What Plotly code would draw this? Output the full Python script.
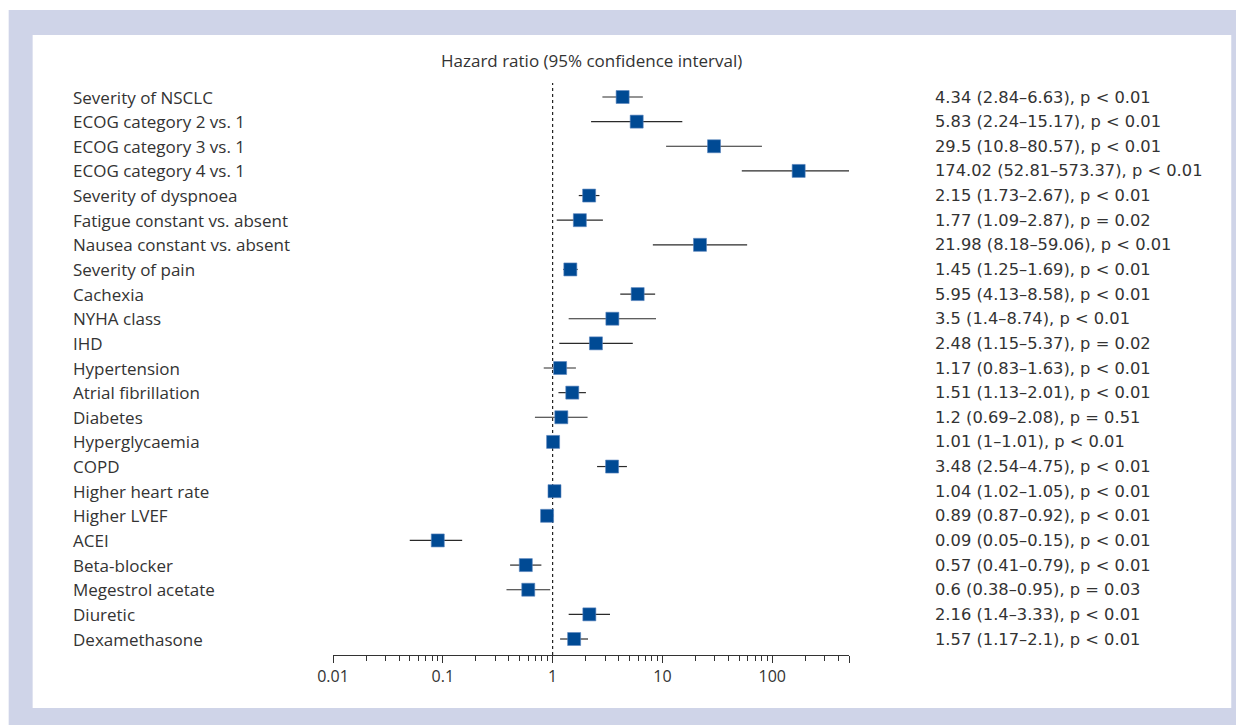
import plotly.graph_objects as go
import numpy as np

labels = ["Severity of NSCLC", "ECOG category 2 vs. 1", "ECOG category 3 vs. 1",
          "ECOG category 4 vs. 1", "Severity of dyspnoea", "Fatigue constant vs. absent",
          "Nausea constant vs. absent", "Severity of pain", "Cachexia", "NYHA class", "IHD",
          "Hypertension", "Atrial fibrillation", "Diabetes", "Hyperglycaemia", "COPD",
          "Higher heart rate", "Higher LVEF", "ACEI", "Beta-blocker", "Megestrol acetate",
          "Diuretic", "Dexamethasone"]
hr = [4.34, 5.83, 29.5, 174.02, 2.15, 1.77, 21.98, 1.45, 5.95, 3.5, 2.48, 1.17, 1.51, 1.2,
      1.01, 3.48, 1.04, 0.89, 0.09, 0.57, 0.6, 2.16, 1.57]
lo = [2.84, 2.24, 10.8, 52.81, 1.73, 1.09, 8.18, 1.25, 4.13, 1.4, 1.15, 0.83, 1.13, 0.69,
      1.0, 2.54, 1.02, 0.87, 0.05, 0.41, 0.38, 1.4, 1.17]
hi = [6.63, 15.17, 80.57, 573.37, 2.67, 2.87, 59.06, 1.69, 8.58, 8.74, 5.37, 1.63, 2.01, 2.08,
      1.01, 4.75, 1.05, 0.92, 0.15, 0.79, 0.95, 3.33, 2.1]
pvals = ["p < 0.01", "p < 0.01", "p < 0.01", "p < 0.01", "p < 0.01", "p = 0.02", "p < 0.01",
         "p < 0.01", "p < 0.01", "p < 0.01", "p = 0.02", "p < 0.01", "p < 0.01", "p = 0.51",
         "p < 0.01", "p < 0.01", "p < 0.01", "p < 0.01", "p < 0.01", "p < 0.01", "p = 0.03",
         "p < 0.01", "p < 0.01"]
hr_txt = ["4.34", "5.83", "29.5", "174.02", "2.15", "1.77", "21.98", "1.45", "5.95", "3.5",
          "2.48", "1.17", "1.51", "1.2", "1.01", "3.48", "1.04", "0.89", "0.09", "0.57", "0.6",
          "2.16", "1.57"]
lo_txt = ["2.84", "2.24", "10.8", "52.81", "1.73", "1.09", "8.18", "1.25", "4.13", "1.4",
          "1.15", "0.83", "1.13", "0.69", "1", "2.54", "1.02", "0.87", "0.05", "0.41", "0.38",
          "1.4", "1.17"]
hi_txt = ["6.63", "15.17", "80.57", "573.37", "2.67", "2.87", "59.06", "1.69", "8.58", "8.74",
          "5.37", "1.63", "2.01", "2.08", "1.01", "4.75", "1.05", "0.92", "0.15", "0.79", "0.95",
          "3.33", "2.1"]
major_ticks = [0.01, 0.1, 1, 10, 100, 500]
major_text = ["0.01", "0.1", "1", "10", "100", ""]

n = len(labels)
ypos = [n - 1 - i for i in range(n)]

# page has an 8px body margin; work in reference-screen pixels and shift
OFF = 8
W, H = 1244 - OFF, 725 - OFF
L, R, T, B = 332.7, 849.3, 83, 655        # plot area in screen px
ROW0, ROWN = 97, 639
step = (ROWN - ROW0) / (n - 1)
pw, ph = R - L, B - T

def px2x(p):
    return (p - L) / pw

def py2y(p):
    return (B - p) / ph

FONT = "Open Sans"
FONT2 = "DejaVu Sans"
TXT = "#333333"
BLUE = "#004a94"

fig = go.Figure()

xs, ys = [], []
for y, a, b in zip(ypos, lo, hi):
    xs += [a, min(b, 500), None]
    ys += [y, y, None]
fig.add_trace(go.Scatter(x=xs, y=ys, mode="lines", line=dict(color="#2a2a2a", width=1.2),
                         hoverinfo="skip", showlegend=False, cliponaxis=False))
fig.add_trace(go.Scatter(x=hr, y=ypos, mode="markers",
                         marker=dict(symbol="square", size=13, color=BLUE,
                                     line=dict(color="#5a85bd", width=0.6)),
                         showlegend=False, cliponaxis=False))

minor_vals = [m * 10.0 ** d for d in range(-2, 3) for m in range(2, 10) if m * 10.0 ** d < 500]

fig.update_xaxes(type="log", range=[-2, np.log10(500)], tickmode="array",
                 tickvals=major_ticks, ticktext=major_text, ticks="outside", ticklen=7,
                 tickcolor="#333333", tickwidth=1, showline=True, linecolor="#333333",
                 linewidth=1, showgrid=False, zeroline=False,
                 tickfont=dict(family=FONT, size=16, color=TXT),
                 minor=dict(tickmode="array", tickvals=minor_vals, ticks="outside",
                            ticklen=5, tickcolor="#333333", showgrid=False))
fig.update_yaxes(range=[-(B - ROWN) / step, n - 1 + (ROW0 - T) / step], showticklabels=False,
                 showgrid=False, zeroline=False, showline=False)

shapes = [
    dict(type="rect", xref="paper", yref="paper", x0=px2x(8), x1=px2x(1250), y0=py2y(730),
         y1=py2y(10), fillcolor="#cfd4e8", line=dict(width=0), layer="below"),
    dict(type="rect", xref="paper", yref="paper", x0=px2x(32), x1=px2x(1232), y0=py2y(708),
         y1=py2y(35), fillcolor="white", line=dict(width=0), layer="below"),
    dict(type="line", xref="x", yref="paper", x0=1, x1=1, y0=0, y1=1,
         line=dict(color="#222222", width=1.2, dash="dot"), layer="below"),
]

ann = [dict(text="Hazard ratio (95% confidence interval)", xref="paper", yref="paper",
            x=0.5, y=py2y(61), xanchor="center", yanchor="middle", showarrow=False,
            font=dict(family=FONT, size=17, color=TXT))]
for i in range(n):
    ann.append(dict(text=labels[i], xref="paper", yref="y", x=px2x(70), y=ypos[i],
                    xanchor="left", yanchor="middle", showarrow=False,
                    font=dict(family=FONT, size=17, color=TXT)))
    ann.append(dict(text=f"{hr_txt[i]} ({lo_txt[i]}–{hi_txt[i]}), {pvals[i]}", xref="paper",
                    yref="y", x=px2x(933), y=ypos[i], xanchor="left", yanchor="middle",
                    showarrow=False, font=dict(family=FONT2, size=16.3, color=TXT)))

fig.update_layout(width=W, height=H,
                  margin=dict(l=L - OFF, r=W - (R - OFF), t=T - OFF, b=H - (B - OFF)),
                  paper_bgcolor="white", plot_bgcolor="rgba(0,0,0,0)",
                  shapes=shapes, annotations=ann, font=dict(family=FONT, color=TXT))

fig.write_html("out.html")
